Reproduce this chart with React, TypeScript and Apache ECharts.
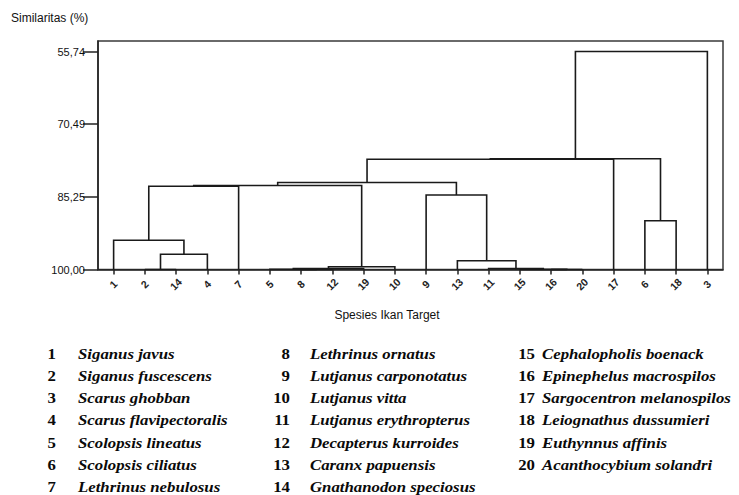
import React, { useEffect, useRef } from 'react';
import * as echarts from 'echarts';

// Leaf order along the x axis (species numbers)
const leafOrder = ['1', '2', '14', '4', '7', '5', '8', '12', '19', '10', '9', '13', '11', '15', '16', '20', '17', '6', '18', '3'];

// Linkage: [left child, right child, similarity (%)]; "cN" refers to the N-th merge
const merges: [string, string, number][] = [
  ['2', '14', 100.0],   // c0
  ['c0', '4', 96.91],   // c1
  ['1', 'c1', 94.07],   // c2
  ['c2', '7', 83.11],   // c3
  ['8', '12', 100.0],   // c4
  ['5', 'c4', 99.97],   // c5
  ['c5', '19', 99.8],   // c6
  ['c6', '10', 99.45],  // c7
  ['c3', 'c7', 82.94],  // c8
  ['16', '20', 100.0],  // c9
  ['15', 'c9', 99.97],  // c10
  ['11', 'c10', 99.8],  // c11
  ['13', 'c11', 98.21], // c12
  ['9', 'c12', 84.87],  // c13
  ['c8', 'c13', 82.34], // c14
  ['c14', '17', 77.62], // c15
  ['6', '18', 90.09],   // c16
  ['c15', 'c16', 77.5], // c17
  ['c17', '3', 55.74],  // c18
];

const yTickValues = [55.74, 70.49, 85.25, 100];
const yTickLabels = ['55,74', '70,49', '85,25', '100,00'];

const speciesNames = [
  'Siganus javus', 'Siganus fuscescens', 'Scarus ghobban', 'Scarus flavipectoralis',
  'Scolopsis lineatus', 'Scolopsis ciliatus', 'Lethrinus nebulosus', 'Lethrinus ornatus',
  'Lutjanus carponotatus', 'Lutjanus vitta', 'Lutjanus erythropterus', 'Decapterus kurroides',
  'Caranx papuensis', 'Gnathanodon speciosus', 'Cephalopholis boenack', 'Epinephelus macrospilos',
  'Sargocentron melanospilos', 'Leiognathus dussumieri', 'Euthynnus affinis', 'Acanthocybium solandri',
];

const yAxisTitle = 'Similaritas (%)';
const xAxisTitle = 'Spesies Ikan Target';

function buildSegments() {
  const pos: Record<string, { x: number; y: number }> = {};
  leafOrder.forEach((l, i) => { pos[l] = { x: i, y: 100 }; });
  const segs: number[][] = [];
  merges.forEach(([a, b, s], i) => {
    const pa = pos[a];
    const pb = pos[b];
    segs.push([pa.x, pb.x, pa.y, pb.y, s]);
    pos['c' + i] = { x: (pa.x + pb.x) / 2, y: s };
  });
  return segs;
}

export default function App() {
  const ref = useRef<HTMLDivElement>(null);
  useEffect(() => {
    if (!ref.current) return;
    const chart = echarts.init(ref.current, null, { renderer: 'svg' });
    const segs = buildSegments();
    const leafIdx = leafOrder.map((_, i) => i);

    const legendEls: any[] = [];
    const numRight = [56, 290, 535];
    const nameLeft = [78, 310, 542];
    speciesNames.forEach((name, i) => {
      const col = Math.floor(i / 7);
      const row = i % 7;
      const y = 354 + row * 22.1;
      legendEls.push({
        type: 'text', x: numRight[col], y, scaleX: 1.12,
        style: { text: String(i + 1), fontFamily: 'Liberation Serif', fontWeight: 'bold', fontSize: 15, fill: '#0a0a0a', textAlign: 'right', textVerticalAlign: 'middle' },
      });
      legendEls.push({
        type: 'text', x: nameLeft[col], y, scaleX: 1.12,
        style: { text: name, fontFamily: 'Liberation Serif', fontWeight: 'bold', fontStyle: 'italic', fontSize: 15, fill: '#0a0a0a', textAlign: 'left', textVerticalAlign: 'middle' },
      });
    });

    chart.setOption({
      animation: false,
      backgroundColor: '#fff',
      grid: { left: 98, top: 41, width: 625, height: 228.5, show: true, borderColor: '#3a3a3a', borderWidth: 1.5, backgroundColor: 'transparent' },
      xAxis: {
        type: 'value', min: -0.5, max: 19.5,
        splitLine: { show: false },
        axisLine: { show: true, onZero: false, lineStyle: { color: '#222', width: 1.5 } },
        axisTick: { show: true, customValues: leafIdx, length: 5, lineStyle: { color: '#222', width: 1.5 } },
        axisLabel: {
          customValues: leafIdx, rotate: 45, margin: 15, align: 'center', verticalAlign: 'middle',
          formatter: (v: number) => leafOrder[Math.round(v)] ?? '',
          fontFamily: 'Liberation Sans', fontSize: 10.5, fontWeight: 'bold', color: '#222',
        },
      },
      yAxis: {
        type: 'value', inverse: true, min: 53.6, max: 100,
        splitLine: { show: false },
        axisLine: { show: true, onZero: false, lineStyle: { color: '#222', width: 1.5 } },
        axisTick: { show: true, customValues: yTickValues, length: 15, lineStyle: { color: '#222', width: 1.5 } },
        axisLabel: {
          customValues: yTickValues, margin: 13,
          formatter: (v: number) => {
            const i = yTickValues.findIndex((t) => Math.abs(t - v) < 1e-6);
            return i >= 0 ? yTickLabels[i] : '';
          },
          fontFamily: 'Liberation Sans', fontSize: 11, color: '#111',
        },
      },
      series: [{
        type: 'custom',
        data: segs,
        encode: { x: [0, 1], y: [2, 3, 4] },
        renderItem: (params: any, api: any) => {
          const xl = api.value(0), xr = api.value(1), yl = api.value(2), yr = api.value(3), s = api.value(4);
          const pts = [api.coord([xl, yl]), api.coord([xl, s]), api.coord([xr, s]), api.coord([xr, yr])];
          return { type: 'polyline', shape: { points: pts }, style: { stroke: '#1a1a1a', lineWidth: 1.6, fill: null } };
        },
      }],
      graphic: [
        { type: 'text', x: 11, y: 18, style: { text: yAxisTitle, fontFamily: 'Liberation Sans', fontSize: 12, fill: '#111', textAlign: 'left', textVerticalAlign: 'middle' } },
        { type: 'text', x: 387, y: 315, style: { text: xAxisTitle, fontFamily: 'Liberation Sans', fontSize: 12, fill: '#111', textAlign: 'center', textVerticalAlign: 'middle' } },
        ...legendEls,
      ],
    });
    return () => chart.dispose();
  }, []);
  return <div ref={ref} style={{ position: 'absolute', left: 0, top: 0, width: 739, height: 495 }} />;
}
